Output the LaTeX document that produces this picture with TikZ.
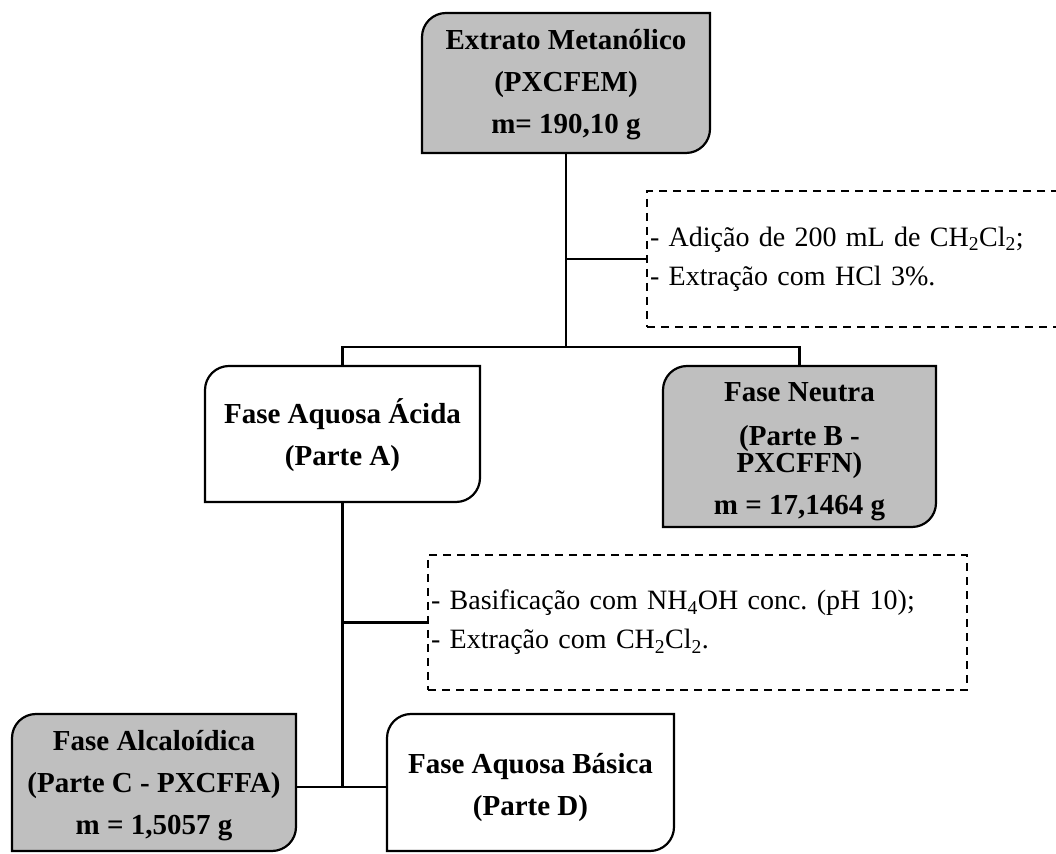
\documentclass[tikz,border=0pt]{standalone}
\usepackage{fontspec}
\setmainfont{Liberation Serif}
\usetikzlibrary{backgrounds}
\frenchspacing
\tikzset{
  boxline/.style={line width=2.2pt, line join=miter},
  shapebox/.style={rectangle, inner sep=0pt, outer sep=0pt},
  boxtext/.style={inner sep=0pt, align=center,
    font=\bfseries\fontsize{29}{42}\selectfont},
  notebox/.style={rectangle, draw, line width=2.2pt, dash pattern=on 8pt off 6pt,
    inner xsep=3pt, inner ysep=0pt, outer sep=0pt, align=left,
    font=\fontsize{28}{39}\selectfont},
  link/.style={line width=2.2pt},
  grayfill/.style={fill=black!25},
  whitefill/.style={fill=white},
}
\newcommand\cornerbox[2]{%
  \draw[boxline,#2] (#1.north east) -- ([yshift=24pt]#1.south east)
    arc[start angle=0,end angle=-90,radius=24pt] -- (#1.south west)
    -- ([yshift=-24pt]#1.north west)
    arc[start angle=180,end angle=90,radius=24pt] -- cycle;}
\begin{document}
\begin{tikzpicture}[x=1pt,y=1pt]
\useasboundingbox (0,0) rectangle (1056,853);
\clip (0,0) rectangle (1056,853);
% box shapes
\node[shapebox, minimum width=288pt, minimum height=140pt] (top) at (566,770) {};
\node[shapebox, minimum width=275pt, minimum height=136pt] (acida) at (342.5,419) {};
\node[shapebox, minimum width=273pt, minimum height=161pt] (neutra) at (799.5,406.5) {};
\node[shapebox, minimum width=284pt, minimum height=137pt] (alc) at (154,70.5) {};
\node[shapebox, minimum width=287pt, minimum height=137pt] (bas) at (530.5,70.5) {};
\begin{scope}[on background layer]
  \cornerbox{top}{grayfill}
  \cornerbox{acida}{whitefill}
  \cornerbox{neutra}{grayfill}
  \cornerbox{alc}{grayfill}
  \cornerbox{bas}{whitefill}
\end{scope}
% box texts
\node[boxtext] (top-t) at ([yshift=-2pt]top.center)
  {Extrato Metanólico\\(PXCFEM)\\m= 190,10 g};
\node[boxtext] (acida-t) at ([yshift=-1pt]acida.center)
  {Fase Aquosa Ácida\\(Parte A)};
\node[boxtext, font=\bfseries\fontsize{29}{26}\selectfont] (neutra-t)
  at ([yshift=-5pt]neutra.center)
  {Fase Neutra\\[18pt](Parte B -\\PXCFFN)\\[16pt]m = 17,1464 g};
\node[boxtext] (alc-t) at ([yshift=-3pt]alc.center)
  {Fase Alcaloídica\\(Parte C - PXCFFA)\\m = 1,5057 g};
\node[boxtext] (bas-t) at ([yshift=-5pt]bas.center)
  {Fase Aquosa Básica\\(Parte D)};
% note boxes
\node[notebox, text width=447pt, minimum height=136pt] (note1) at (873.5,594)
  {- Adição de 200 mL de CH\textsubscript{2}Cl\textsubscript{2};\\- Extração com HCl 3\%.};
\node[notebox, text width=533pt, minimum height=135pt] (note2) at (697.5,230.5)
  {- Basificação com NH\textsubscript{4}OH conc. (pH 10);\\- Extração com CH\textsubscript{2}Cl\textsubscript{2}.};
% connectors
\coordinate (j1) at (566,506);
\coordinate (j2) at ([yshift=-4.5pt]alc.east);
\draw[link] (top.south) -- (j1);
\draw[link] (top.south |- note1.west) -- (note1.west);
\draw[link] (acida.north) |- (j1) -| (neutra.north);
\draw[link] (acida.south) -- (acida.south |- j2);
\draw[link] (acida.south |- note2.west) -- (note2.west);
\draw[link] (j2) -- (bas.west |- j2);
\end{tikzpicture}
\end{document}
